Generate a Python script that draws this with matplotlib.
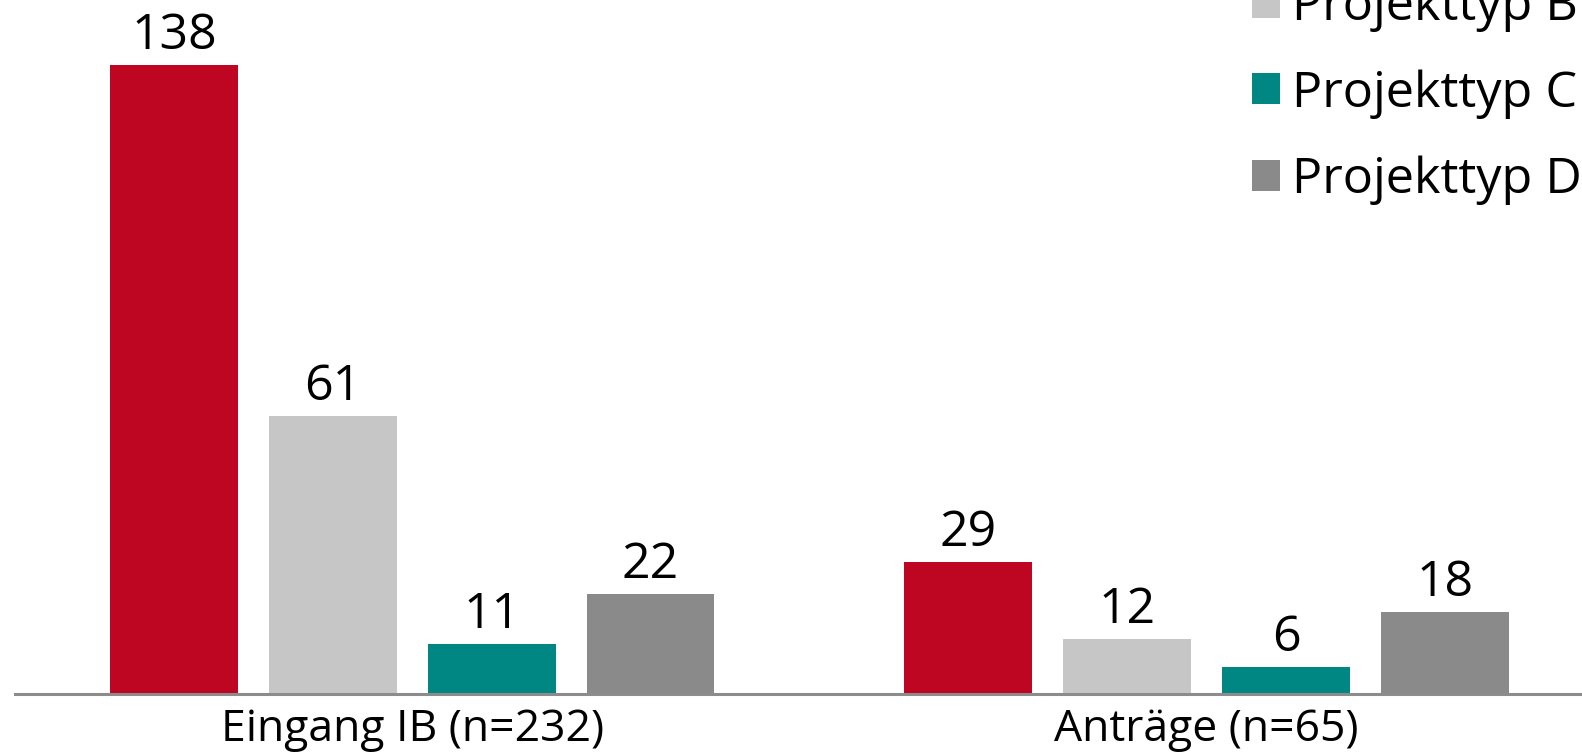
import matplotlib

matplotlib.use("Agg")
import matplotlib.pyplot as plt
import numpy as np

# chart data
categories = ["Eingang IB (n=232)", "Anträge (n=65)"]
series_names = ["Projekttyp A", "Projekttyp B", "Projekttyp C", "Projekttyp D"]
typ_a = [138, 29]
typ_b = [61, 12]
typ_c = [11, 6]
typ_d = [22, 18]

colors = ["#BE0522", "#C6C6C6", "#008683", "#8A8A8A"]

plt.rcParams["font.family"] = ["Open Sans", "DejaVu Sans"]

fig = plt.figure(figsize=(15.82, 7.52), dpi=100)
ax = fig.add_axes([15 / 1582, 58 / 752, 1 - 15 / 1582, 694 / 752])

x = np.arange(len(categories))
step = 0.2
width = 0.161
for i, (name, vals) in enumerate(zip(series_names, [typ_a, typ_b, typ_c, typ_d])):
    pos = x + (i - 1.5) * step
    bars = ax.bar(pos, vals, width, color=colors[i], label=name, zorder=2)
    for b, v in zip(bars, vals):
        ax.annotate(
            str(v),
            (b.get_x() + b.get_width() / 2, v),
            xytext=(0, 11.5),
            textcoords="offset points",
            ha="center",
            va="baseline",
            fontsize=36,
        )

ax.set_xlim(-0.5, 1.4725)
ax.set_ylim(0, 152.2)
ax.set_yticks([])
ax.set_xticks(x)
ax.set_xticklabels(categories, fontsize=32)
ax.tick_params(axis="x", length=0, pad=10)
for side in ["top", "right", "left"]:
    ax.spines[side].set_visible(False)
ax.spines["bottom"].set_color("#8C8C8C")
ax.spines["bottom"].set_linewidth(2.2)
ax.spines["bottom"].set_zorder(3)

# legend sits partly above the figure edge, as in the source chart
fig.legend(
    loc="lower left",
    bbox_to_anchor=(1252 / 1582, 1 - 205 / 752),
    frameon=False,
    fontsize=36.3,
    handlelength=0.565,
    handleheight=0.565,
    handletextpad=0.22,
    labelspacing=0.73,
    borderaxespad=0,
    borderpad=0,
)

fig.savefig("out.png", dpi=100)
